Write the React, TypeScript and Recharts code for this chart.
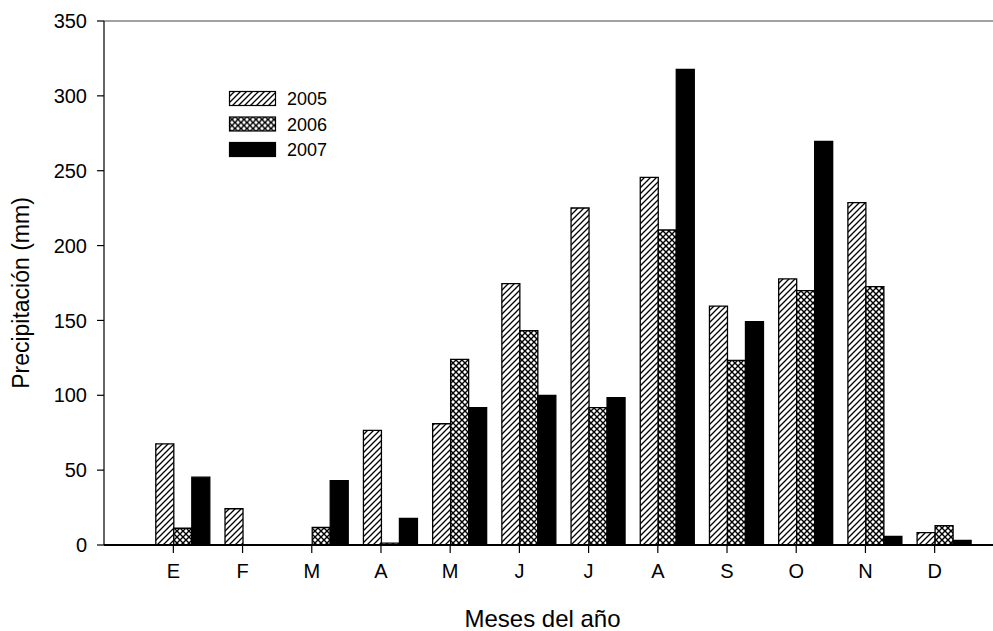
import { BarChart, Bar, XAxis, YAxis, ReferenceLine, Legend } from 'recharts'

const months = ['E', 'F', 'M', 'A', 'M', 'J', 'J', 'A', 'S', 'O', 'N', 'D']
const y2005 = [67.6, 24.2, 0, 76.5, 81, 174.6, 225.1, 245.5, 159.6, 177.7, 228.7, 8.2]
const y2006 = [11.2, 0, 11.7, 1.2, 124, 143.2, 91.7, 210.4, 123.3, 169.9, 172.6, 13]
const y2007 = [45.3, 0, 43, 17.7, 91.7, 99.9, 98.4, 317.6, 149.2, 269.5, 5.7, 3]
const yTicks = [0, 50, 100, 150, 200, 250, 300, 350]

const data = months.map((m, i) => ({ mes: m, a2005: y2005[i], a2006: y2006[i], a2007: y2007[i] }))

const FONT = '"Liberation Sans", Arial, sans-serif'
const BAR_W = 17.5

function Patterns({ prefix }: { prefix: string }) {
  return (
    <defs>
      <pattern id={`${prefix}hatch`} patternUnits="userSpaceOnUse" width={6} height={6}>
        <rect width={6} height={6} fill="#fff" />
        <path d="M0,6 L6,0 M-1.5,1.5 L1.5,-1.5 M4.5,7.5 L7.5,4.5" stroke="#000" strokeWidth={1.3} />
      </pattern>
      <pattern id={`${prefix}cross`} patternUnits="userSpaceOnUse" width={6} height={6}>
        <rect width={6} height={6} fill="#fff" />
        <path d="M0,0 L6,6 M6,0 L0,6" stroke="#000" strokeWidth={1.4} />
      </pattern>
    </defs>
  )
}

const MonthTick = (props: any) => {
  const { x, y, payload } = props
  const tx = x - BAR_W / 2
  return (
    <g>
      <line x1={tx} y1={y} x2={tx} y2={y + 8} stroke="#000" strokeWidth={1.2} />
      <text x={tx} y={y + 33} textAnchor="middle" fontSize={20} fontFamily={FONT} fill="#000">
        {payload.value}
      </text>
    </g>
  )
}

const legendItems = [
  { label: '2005', fill: 'url(#lg-hatch)' },
  { label: '2006', fill: 'url(#lg-cross)' },
  { label: '2007', fill: '#000' },
]

function YearLegend() {
  return (
    <svg width={120} height={80} style={{ overflow: 'visible', display: 'block' }}>
      <Patterns prefix="lg-" />
      {legendItems.map((it, i) => (
        <g key={it.label} transform={`translate(0, ${i * 25.5})`}>
          <rect x={0.5} y={0.5} width={46} height={14} fill={it.fill} stroke="#000" strokeWidth={1.2} />
          <text x={58} y={14} fontSize={18} fontFamily={FONT} fill="#000">
            {it.label}
          </text>
        </g>
      ))}
    </svg>
  )
}

export default function App() {
  return (
    <div style={{ position: 'absolute', left: 0, top: 0, background: '#fff' }}>
      <BarChart
        width={993}
        height={631}
        data={data}
        margin={{ top: 21, right: 0, bottom: 0, left: 0 }}
        barCategoryGap="12%"
        barGap={0}
      >
        <Patterns prefix="" />
        <XAxis
          dataKey="mes"
          height={86}
          padding={{ left: 43.5, right: 15 }}
          axisLine={{ stroke: '#000', strokeWidth: 2 }}
          tickLine={false}
          tickSize={0}
          tickMargin={0}
          tick={<MonthTick />}
          interval={0}
          label={{ value: 'Meses del año', position: 'insideBottom', offset: 4, dx: -6, fontSize: 24, fontFamily: FONT, fill: '#000' }}
        />
        <YAxis
          width={104}
          domain={[0, 350]}
          ticks={yTicks}
          interval={0}
          axisLine={{ stroke: '#000', strokeWidth: 1.2 }}
          tickLine={{ stroke: '#000', strokeWidth: 1.2 }}
          tickSize={7}
          tickMargin={10}
          tick={{ fill: '#000', fontSize: 20, fontFamily: FONT }}
          label={{ value: 'Precipitación (mm)', angle: -90, position: 'insideLeft', offset: 21, dy: 10, style: { textAnchor: 'middle' }, fontSize: 23, fontFamily: FONT, fill: '#000' }}
        />
        <ReferenceLine y={350} stroke="#444" strokeWidth={1} />
        <Legend
          content={<YearLegend />}
          layout="vertical"
          verticalAlign="middle"
          align="center"
          wrapperStyle={{ position: 'absolute', left: 229, top: 91, width: 120, height: 80 }}
        />
        <Bar dataKey="a2005" name="2005" fill="url(#hatch)" stroke="#000" strokeWidth={1.3} isAnimationActive={false} />
        <Bar dataKey="a2006" name="2006" fill="url(#cross)" stroke="#000" strokeWidth={1.3} isAnimationActive={false} />
        <Bar dataKey="a2007" name="2007" fill="#000" stroke="#000" strokeWidth={1.3} isAnimationActive={false} />
      </BarChart>
    </div>
  )
}
